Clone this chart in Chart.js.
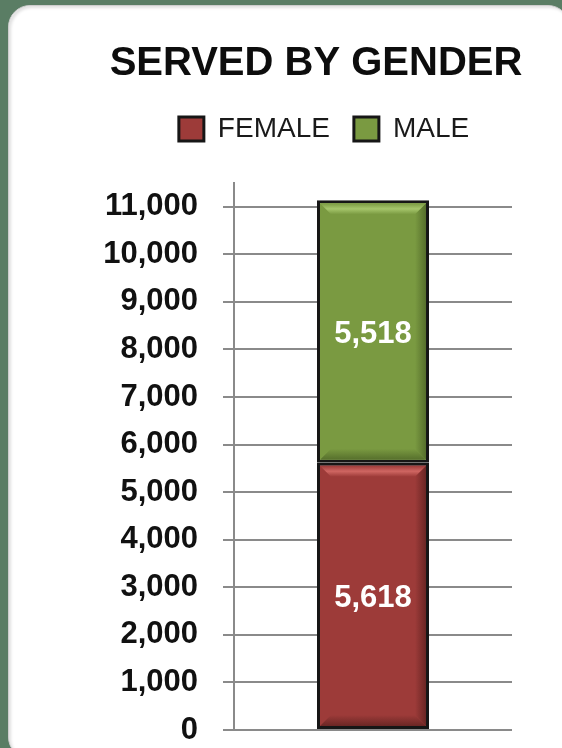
<!DOCTYPE html>
<html>
<head>
<meta charset="utf-8">
<title>Served by gender</title>
<script src="https://cdn.jsdelivr.net/npm/chart.js@4.4.1/dist/chart.umd.min.js"></script>
<style>
  html, body { margin: 0; padding: 0; }
  body { width: 562px; height: 748px; overflow: hidden; background: #5a7d64; position: relative; }
  .panel {
    position: absolute; left: 8px; top: 5px; width: 560px; height: 752px;
    background: #fff; border: 1px solid #cdcdcd; border-radius: 22px;
    box-shadow: inset 2px 2px 3px rgba(0,0,0,0.12);
  }
  #genderChart { position: absolute; left: 0; top: 0; }
</style>
</head>
<body>
<div class="panel"></div>
<canvas id="genderChart" width="562" height="748"></canvas>
<script>
const categories = ['TOTAL'];
const femaleValues = [5618];
const maleValues = [5518];
const seriesNames = ['FEMALE', 'MALE'];
const yTickValues = [0, 1000, 2000, 3000, 4000, 5000, 6000, 7000, 8000, 9000, 10000, 11000];
const yAxisMax = 11500;

const fontFamily = "'Liberation Sans', Arial, sans-serif";

// colours for the bevel look: main, light top, dark right/bottom
const shades = {
  FEMALE: { main: '#9d3b39', light: '#cf6662', dark: '#6a2624' },
  MALE: { main: '#7a9a41', light: '#a6c66c', dark: '#566f2c' }
};

// extra room under the legend, and title/legend pushed a bit to the right
const headerTweaks = {
  id: 'headerTweaks',
  afterInit(chart) {
    const fit = chart.legend.fit;
    chart.legend.fit = function () {
      fit.call(this);
      this.height += 30;
    };
  },
  beforeDraw(chart) {
    chart.titleBlock.left = 70;
    chart.titleBlock.right = chart.width;
    chart.legend.left = 86;
    chart.legend.right = chart.width;
  }
};

const bevelAndLabels = {
  id: 'bevelAndLabels',
  afterDatasetsDraw(chart) {
    const ctx = chart.ctx;
    chart.data.datasets.forEach((ds, i) => {
      const meta = chart.getDatasetMeta(i);
      const sh = shades[ds.label];
      meta.data.forEach((bar, j) => {
        const p = bar.getProps(['x', 'y', 'base', 'width'], true);
        const bw = 3;
        const l = p.x - p.width / 2 + bw;
        const r = p.x + p.width / 2 - bw;
        const t = Math.min(p.y, p.base) + bw;
        const b = Math.max(p.y, p.base) - bw;
        const bev = 11;
        ctx.save();
        // right side
        let g = ctx.createLinearGradient(r - bev, 0, r, 0);
        g.addColorStop(0, sh.main);
        g.addColorStop(1, sh.dark);
        ctx.fillStyle = g;
        ctx.beginPath();
        ctx.moveTo(r, t); ctx.lineTo(r, b); ctx.lineTo(r - bev, b - bev); ctx.lineTo(r - bev, t + bev);
        ctx.closePath(); ctx.fill();
        // bottom
        g = ctx.createLinearGradient(0, b - bev, 0, b);
        g.addColorStop(0, sh.main);
        g.addColorStop(1, sh.dark);
        ctx.fillStyle = g;
        ctx.beginPath();
        ctx.moveTo(l, b); ctx.lineTo(r, b); ctx.lineTo(r - bev, b - bev); ctx.lineTo(l + bev, b - bev);
        ctx.closePath(); ctx.fill();
        // top
        g = ctx.createLinearGradient(0, t, 0, t + bev);
        g.addColorStop(0, sh.main);
        g.addColorStop(0.5, sh.light);
        g.addColorStop(1, sh.main);
        ctx.fillStyle = g;
        ctx.beginPath();
        ctx.moveTo(l, t); ctx.lineTo(r, t); ctx.lineTo(r - bev, t + bev); ctx.lineTo(l + bev, t + bev);
        ctx.closePath(); ctx.fill();
        ctx.restore();

        // value label
        const v = ds.data[j];
        ctx.save();
        ctx.fillStyle = '#ffffff';
        ctx.font = 'bold 31px ' + fontFamily;
        ctx.textAlign = 'center';
        ctx.textBaseline = 'middle';
        ctx.fillText(v.toLocaleString('en-US'), p.x, (p.y + p.base) / 2 + 3);
        ctx.restore();
      });
    });
  }
};

new Chart(document.getElementById('genderChart'), {
  type: 'bar',
  data: {
    labels: categories,
    datasets: [
      {
        label: seriesNames[0],
        data: femaleValues,
        backgroundColor: shades.FEMALE.main,
        borderColor: '#161616',
        borderWidth: 3,
        borderSkipped: false
      },
      {
        label: seriesNames[1],
        data: maleValues,
        backgroundColor: shades.MALE.main,
        borderColor: '#161616',
        borderWidth: 3,
        borderSkipped: false
      }
    ]
  },
  options: {
    responsive: false,
    animation: false,
    devicePixelRatio: 1,
    barPercentage: 0.403,
    categoryPercentage: 1,
    layout: { padding: { left: 0, right: 50, top: 0, bottom: 18 } },
    plugins: {
      title: {
        display: true,
        text: 'SERVED BY GENDER',
        color: '#0d0d0d',
        font: { family: fontFamily, size: 40, weight: 'bold' },
        padding: { top: 40, bottom: 3 }
      },
      legend: {
        display: true,
        labels: {
          color: '#1a1a1a',
          font: { family: fontFamily, size: 28 },
          boxWidth: 25,
          boxHeight: 24,
          padding: 24
        }
      },
      tooltip: { enabled: false }
    },
    scales: {
      x: {
        display: false,
        stacked: true
      },
      y: {
        stacked: true,
        min: 0,
        max: yAxisMax,
        afterBuildTicks(scale) {
          scale.ticks = yTickValues.map(v => ({ value: v }));
        },
        afterFit(scale) {
          scale.width = 234;
          scale.paddingTop = 0;
          scale.paddingBottom = 0;
        },
        border: { display: true, color: '#8a8a8a', width: 2 },
        grid: { color: '#8a8a8a', lineWidth: 2, tickLength: 11 },
        ticks: {
          autoSkip: false,
          padding: 25,
          color: '#111111',
          font: { family: fontFamily, size: 31, weight: 'bold' },
          callback: v => v.toLocaleString('en-US')
        }
      }
    }
  },
  plugins: [headerTweaks, bevelAndLabels]
});
</script>
</body>
</html>
